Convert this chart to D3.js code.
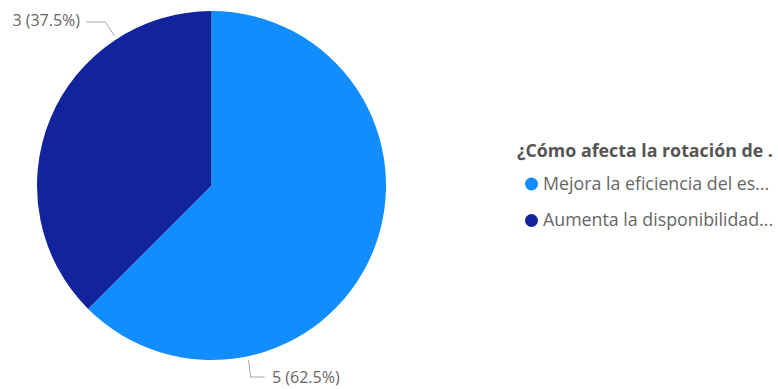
<!DOCTYPE html>
<html>
<head>
<meta charset="utf-8">
<script src="https://cdn.jsdelivr.net/npm/d3@7"></script>
<style>
  html, body { margin: 0; padding: 0; background: #ffffff; }
  svg { display: block; }
  text { font-family: "Segoe UI", "Open Sans", "Noto Sans", sans-serif; }
</style>
</head>
<body>
<svg id="chart" width="778" height="389"></svg>
<script>
// Survey answers
const categories = [
  "Mejora la eficiencia del es...",
  "Aumenta la disponibilidad..."
];
const counts = [5, 3];
const colors = ["#118DFF", "#12239E"];
const legendTitle = "¿Cómo afecta la rotación de .";

const svg = d3.select("#chart");
const cx = 211.5, cy = 185.5, R = 174.5;

const total = d3.sum(counts);
const data = categories.map((c, i) => ({ name: c, value: counts[i], color: colors[i] }));

const pie = d3.pie().sort(null).value(d => d.value);
const arcs = pie(data);
const arc = d3.arc().innerRadius(0).outerRadius(R);

const g = svg.append("g").attr("transform", `translate(${cx},${cy})`);
g.selectAll("path.slice")
  .data(arcs)
  .join("path")
  .attr("class", "slice")
  .attr("d", arc)
  .attr("fill", d => d.data.color);

// Data labels with leader lines (placement per slice)
const fmt = d => `${d.data.value} (${d3.format(".1%")(d.data.value / total)})`;
const labelSpecs = [
  // 5 (62.5%): leader leaves the rim near the bottom, drops then runs right
  { angle: 168 * Math.PI / 180, pts: (p) => [p, [p[0] + 2, 377 - cy], [p[0] + 16, 377 - cy]], anchor: "start", tx: 272 - cx, ty: 383 - cy },
  // 3 (37.5%): leader leaves the rim near the top-left, rises then runs left
  { angle: 327 * Math.PI / 180, pts: (p) => [p, [p[0] - 9, 22 - cy], [p[0] - 28, 22 - cy]], anchor: "end", tx: 80 - cx, ty: 26 - cy }
];

arcs.forEach((a, i) => {
  const s = labelSpecs[i];
  const r0 = R + 4;
  const p = [Math.sin(s.angle) * r0, -Math.cos(s.angle) * r0];
  g.append("path")
    .attr("d", d3.line()(s.pts(p)))
    .attr("fill", "none")
    .attr("stroke", "#a6a6a6")
    .attr("stroke-width", 1);
  g.append("text")
    .attr("x", s.tx)
    .attr("y", s.ty)
    .attr("text-anchor", s.anchor)
    .attr("font-size", 16)
    .attr("fill", "#666666")
    .text(fmt(a));
});

// Legend
const lg = svg.append("g").attr("transform", "translate(517,0)");
lg.append("text")
  .attr("x", 0)
  .attr("y", 157)
  .attr("font-size", 17.8)
  .attr("font-weight", "bold")
  .attr("fill", "#555555")
  .text(legendTitle);

const items = lg.selectAll("g.item")
  .data(data)
  .join("g")
  .attr("class", "item")
  .attr("transform", (d, i) => `translate(0,${184 + i * 36.5})`);
items.append("circle")
  .attr("cx", 14.5)
  .attr("cy", 0)
  .attr("r", 6.5)
  .attr("fill", d => d.color);
items.append("text")
  .attr("x", 26)
  .attr("y", 5.5)
  .attr("font-size", 17.8)
  .attr("fill", "#666666")
  .text(d => d.name);
</script>
</body>
</html>
